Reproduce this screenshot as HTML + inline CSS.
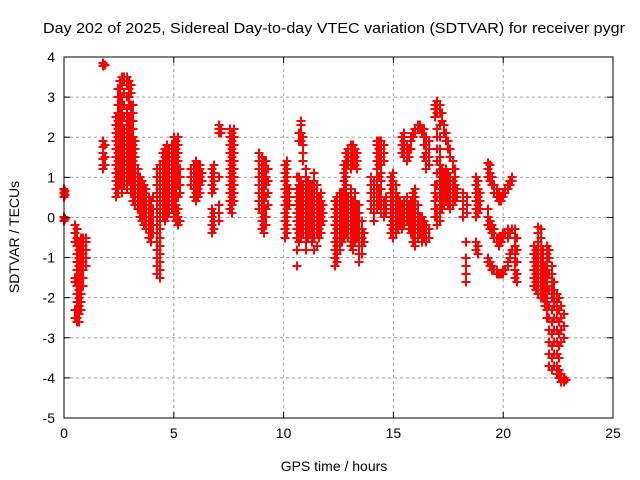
<!DOCTYPE html>
<html><head><meta charset="utf-8"><style>
body{margin:0;background:#fff}
svg{display:block;font-family:"Liberation Sans",sans-serif}
</style></head><body>
<svg id="chart" width="640" height="480" viewBox="0 0 640 480" xmlns="http://www.w3.org/2000/svg">
<rect width="640" height="480" fill="#fff"/>
<text x="43" y="33" font-size="15" textLength="582" lengthAdjust="spacingAndGlyphs" fill="#000">Day 202 of 2025, Sidereal Day-to-day VTEC variation (SDTVAR) for receiver pygr</text>
<g id="grid"></g>
<g id="marks" shape-rendering="crispEdges"></g>
<rect x="64" y="57" width="549" height="361" fill="none" stroke="#000" stroke-width="1"/>
<g id="ticks"></g>
<text x="334" y="471" font-size="14" text-anchor="middle">GPS time / hours</text>
<text transform="translate(19,237) rotate(-90)" font-size="14" text-anchor="middle">SDTVAR / TECUs</text>
</svg>
<script>
const xTicks = [0,5,10,15,20,25];
const yTicks = [-5,-4,-3,-2,-1,0,1,2,3,4];
// each entry: [GPS hour, [SDTVAR values at that hour]]
const stacks = [
[0.02,[0.7,0.6,0.5,0.0,-0.1]],[0.06,[0.65,0.55,-0.05]],
[0.5,[-0.2,-0.4,-0.6,-1.5,-1.6,-2.3,-2.5]],[0.58,[-0.3,-0.5,-0.7,-0.9,-1.1,-1.3,-1.5,-1.7,-1.9,-2.1,-2.3,-2.5,-2.6]],
[0.68,[-0.6,-0.8,-1.0,-1.2,-1.4,-1.6,-1.8,-2.0,-2.2,-2.4,-2.6]],[0.78,[-0.5,-0.7,-0.9,-1.1,-1.3,-1.5,-1.7,-1.9,-2.1,-2.3]],
[0.88,[-0.5,-0.7,-0.9,-1.1,-1.3,-1.5,-1.7]],[0.98,[-0.5,-0.6,-0.8,-1.0,-1.2]],
[1.78,[3.85,3.78,1.9,1.75,1.6,1.45,1.3,1.2]],[1.85,[3.8,1.8,1.5,1.3]],
[2.35,[0.5,0.7,0.9,1.1,1.3,1.5,1.7,1.9,2.1,2.3,2.5]],[2.45,[0.6,0.8,1.0,1.2,1.4,1.6,1.8,2.0,2.2,2.4,2.6,2.8,3.0,3.2]],
[2.55,[0.8,1.0,1.2,1.4,1.6,1.8,2.0,2.2,2.4,2.6,2.8,3.0,3.2,3.4]],[2.65,[0.6,0.8,1.0,1.2,1.4,1.6,1.8,2.0,2.2,2.4,2.6,2.8,3.0,3.3,3.5]],
[2.75,[0.8,1.0,1.2,1.4,1.6,1.8,2.0,2.2,2.5,2.8,3.1,3.4,3.5]],[2.85,[0.7,0.9,1.1,1.3,1.5,1.7,1.9,2.1,2.3,2.5,2.7,3.0,3.3,3.5]],
[2.95,[0.9,1.1,1.3,1.5,1.7,1.9,2.1,2.3,2.5,2.8,3.0,3.2,3.4]],[3.05,[0.6,0.8,1.0,1.2,1.4,1.6,1.8,2.0,2.2,2.4,2.6,2.8,3.1,3.3]],
[3.15,[0.4,0.6,0.8,1.0,1.2,1.4,1.6,1.8,2.0,2.2,2.4,2.6,2.8]],[3.25,[0.3,0.5,0.7,0.9,1.1,1.3,1.5,1.7,1.9]],
[3.35,[0.2,0.4,0.6,0.8,1.0,1.2]],[3.45,[0.0,0.2,0.4,0.6,0.8,1.0]],[3.55,[-0.1,0.1,0.3,0.5,0.7,0.9]],
[3.65,[-0.2,0.0,0.2,0.4,0.6,0.8]],[3.75,[-0.3,-0.1,0.1,0.3,0.5,0.7]],[3.85,[-0.5,-0.3,-0.1,0.1,0.3,0.5]],
[3.95,[-0.6,-0.4,-0.2,0.0,0.2,0.4]],[4.05,[-0.4,-0.2,0.0,0.2,0.5]],
[4.25,[-1.4,-1.2,-1.0,-0.8,-0.6,-0.4,-0.2,0.0,0.2,0.4,0.6,0.8,1.0,1.2]],[4.35,[-1.5,-1.3,-1.1,-0.9,-0.7,-0.5,-0.3,-0.1,0.1,0.3,0.5,0.7,0.9,1.1,1.3]],
[4.5,[0.0,0.2,0.4,0.6,0.8,1.0,1.2,1.4,1.6]],[4.6,[-0.1,0.1,0.3,0.5,0.7,0.9,1.1,1.3,1.5,1.7]],
[4.7,[0.0,0.2,0.4,0.6,0.8,1.0,1.2,1.4,1.6,1.8]],[4.8,[0.1,0.3,0.5,0.7,0.9,1.1,1.3,1.5,1.7]],
[4.9,[0.2,0.4,0.6,0.8,1.0,1.2,1.4,1.6,1.8]],[5.0,[0.0,0.2,0.4,0.6,0.8,1.0,1.2,1.4,1.6,1.8,2.0]],
[5.1,[-0.1,0.1,0.3,0.5,0.7,0.9,1.1,1.3,1.5,1.7,1.9]],[5.2,[-0.2,0.0,0.2,0.5,0.8,1.0,1.2,1.4,1.6,1.8,2.0]],
[5.3,[-0.1,0.6,0.8,1.0,1.2]],
[5.8,[0.8,1.0,1.2]],[5.9,[0.5,0.7,0.9,1.1,1.3]],[6.0,[0.4,0.6,0.8,1.0,1.2,1.4]],[6.1,[0.5,0.7,0.9,1.1,1.3]],
[6.2,[0.6,0.8,1.0,1.2,1.3]],[6.3,[0.9,1.1]],
[6.75,[-0.4,-0.2,0.0,0.2,0.6,0.8,1.0,1.2]],[6.85,[-0.3,-0.1,0.1,0.7,0.9,1.1,1.3]],
[7.05,[2.3,2.2,2.1,1.0,0.3,0.1,-0.1]],[7.15,[2.2,2.1]],
[7.55,[0.2,0.4,0.6,0.8,1.0,1.2,1.4,1.6,1.8,2.0,2.2]],[7.65,[0.1,0.3,0.5,0.7,0.9,1.1,1.3,1.5,1.7,1.9,2.1]],
[7.75,[0.4,0.6,0.8,1.0,1.2,1.4,1.6,1.8,2.0,2.2]],
[8.9,[0.2,0.4,0.6,0.8,1.0,1.2,1.4,1.6]],[9.0,[-0.3,-0.1,0.1,0.3,0.5,0.7,0.9,1.1,1.3,1.5]],
[9.1,[-0.4,-0.2,0.0,0.2,0.4,0.6,0.8,1.0,1.2,1.4]],[9.2,[-0.2,0.0,0.2,0.5,0.8,1.0,1.2,1.4]],[9.3,[0.3,0.6,0.9,1.2]],
[10.05,[-0.5,-0.3,-0.1,0.1,0.3,0.5,0.7,0.9,1.1,1.3]],[10.15,[-0.4,-0.2,0.0,0.2,0.4,0.6,0.8,1.0,1.2,1.4]],[10.25,[0.3,0.5,0.7]],
[10.6,[-1.2,-0.8,-0.5,-0.3,-0.1,0.1,0.3,0.5,0.7,1.0]],[10.7,[-0.6,-0.4,-0.2,0.0,0.2,0.4,0.6,0.8,1.0,1.9,2.1]],
[10.8,[-0.5,-0.3,-0.1,0.1,0.3,0.5,0.7,0.9,1.9,2.1,2.3,2.4]],[10.9,[-0.4,-0.2,0.0,0.2,0.4,0.6,0.8,1.4,1.6,1.8,2.0]],
[11.0,[-0.8,-0.6,-0.4,-0.2,0.0,0.2,0.4,0.6,0.8,1.0,1.2]],[11.1,[-0.5,-0.3,-0.1,0.1,0.3,0.5,0.7,0.9]],
[11.2,[-0.4,-0.2,0.0,0.2,0.4,0.6,0.8]],[11.3,[-0.6,-0.4,-0.2,0.0,0.2,0.4,0.6,0.8]],
[11.4,[-0.8,-0.5,-0.3,-0.1,0.1,0.3,0.5,0.7,0.9,1.1]],[11.5,[-0.7,-0.4,-0.2,0.0,0.2,0.4,0.6,0.8]],
[11.6,[-0.5,-0.3,-0.1,0.1,0.3,0.5]],[11.7,[-0.4,-0.2,0.0,0.2,0.4,0.6]],[11.8,[-0.1,0.1,0.3]],
[12.35,[-1.2,-1.0,-0.8,-0.6,-0.4,-0.2,0.0,0.2,0.4]],[12.45,[-1.1,-0.9,-0.7,-0.5,-0.3,-0.1,0.1,0.3,0.5]],
[12.55,[-0.8,-0.6,-0.4,-0.2,0.0,0.2,0.4,0.6]],[12.65,[-0.6,-0.4,-0.2,0.0,0.2,0.4,0.6]],
[12.75,[-0.5,-0.3,-0.1,0.1,0.3,0.5,0.7,0.9,1.1,1.3]],[12.85,[-0.4,-0.2,0.0,0.2,0.4,0.6,0.8,1.0,1.2,1.4,1.6]],
[12.95,[-0.5,-0.3,-0.1,0.1,0.3,0.5,1.3,1.5,1.7]],[13.05,[-0.7,-0.5,-0.3,-0.1,0.1,0.3,0.5,0.7,1.2,1.4,1.6,1.8]],
[13.15,[-0.8,-0.6,-0.4,-0.2,0.0,0.2,0.4,1.3,1.5,1.7,1.8]],[13.25,[-0.6,-0.4,-0.2,0.0,0.2,0.4,0.6,1.3,1.5,1.7]],
[13.35,[-0.5,-0.3,-0.1,0.1,0.3,1.2,1.4,1.6]],[13.45,[-1.1,-0.9,-0.7,-0.5,-0.3,-0.1,0.1,0.3]],
[13.55,[-0.9,-0.7,-0.5,-0.3,-0.1]],[13.65,[-0.6,-0.4]],
[14.0,[0.2,0.4,0.6,0.8,1.0]],[14.1,[-0.1,0.1,0.3,0.5,0.7,0.9]],[14.25,[0.2,0.4,0.6,0.8,1.0,1.2,1.4,1.6,1.8,1.9]],
[14.35,[0.3,0.5,0.7,1.0,1.3,1.5,1.7,1.9]],[14.45,[0.1,0.3,0.5,0.7,0.9,1.1,1.3,1.5,1.7,1.9]],
[14.55,[0.0,0.2,0.4,1.4,1.6,1.8]],[14.65,[0.1,0.3,0.5]],
[14.9,[-0.4,-0.2,0.0,0.2,0.4,0.6,0.8,1.0]],[15.0,[-0.5,-0.3,-0.1,0.1,0.3,0.5,0.7,0.9,1.1]],
[15.1,[-0.4,-0.2,0.0,0.2,0.4,0.6,0.8]],[15.2,[-0.3,-0.1,0.1,0.3,0.5]],[15.3,[-0.2,0.0,0.2,0.4]],
[15.4,[-0.3,-0.1,0.1,0.3,1.6,1.8,2.0]],[15.5,[-0.2,0.0,0.2,0.4,1.5,1.7,1.9,2.1]],
[15.6,[-0.1,0.1,0.3,0.5,1.4,1.6,1.8]],[15.7,[-0.3,-0.1,0.1,0.3,1.5,1.7]],
[15.8,[-0.4,-0.2,0.0,0.2,0.4,1.7,1.9,2.0]],[15.9,[-0.6,-0.4,-0.2,0.0,0.2,0.4,0.6,2.0,2.1]],
[16.0,[-0.7,-0.5,-0.3,-0.1,0.1,0.3,0.5,0.7,2.1,2.2]],[16.1,[-0.5,-0.3,-0.1,0.1,0.3,2.2,2.3]],
[16.2,[-0.4,-0.2,0.0,2.2,2.3]],[16.3,[-0.6,-0.4,-0.2,0.0,2.1,2.2]],[16.4,[-0.5,-0.3,-0.1,1.5,1.8,2.0,2.2]],
[16.5,[-0.6,-0.4,-0.2,1.2,1.4,1.6,1.8,2.0]],[16.6,[-0.5,-0.3,1.3,1.5,1.7,1.9]],
[16.9,[0.0,0.2,0.4,0.6,0.8,2.5,2.7,2.8]],[17.0,[-0.2,0.0,0.2,0.5,0.8,1.1,1.4,1.7,2.0,2.2,2.6,2.8,2.9]],
[17.1,[-0.1,0.1,0.3,0.5,0.7,0.9,1.1,1.3,1.5,1.7,2.0,2.3,2.6,2.8]],[17.2,[0.2,0.4,0.6,0.8,1.0,1.2,2.4,2.6]],
[17.3,[0.3,0.5,0.7,0.9,1.1,2.1,2.3]],[17.4,[0.4,0.6,0.8,1.0,1.2,1.9,2.1]],[17.5,[0.3,0.5,0.7,0.9,1.1,1.7,1.9]],
[17.6,[0.2,0.4,0.6,0.8,1.0,1.5,1.7]],[17.7,[0.3,0.5,0.7,0.9,1.2,1.4]],[17.8,[0.4,0.6,0.8,1.0,1.2]],[17.9,[0.5,0.7]],
[18.15,[0.0,0.2,0.4,0.6]],[18.3,[-0.6,-1.0,-1.2,-1.4,-1.6]],[18.35,[0.1,0.3,0.5]],
[18.75,[0.0,0.2,0.4,0.6,0.8,1.0,-0.6,-0.8]],[18.85,[0.1,0.3,0.5,0.7,0.9,-0.7,-0.9]],[18.95,[0.2,0.4,0.6]],
[19.3,[1.0,1.2,1.35,0.2,0.0,-0.2,-1.0,-1.1]],[19.4,[0.9,1.1,1.3,-0.1,-0.3,-1.1,-1.2]],[19.5,[0.8,1.0,-0.2,-0.4,-1.2,-1.3]],
[19.6,[0.6,0.8,-0.3,-0.5,-1.3]],[19.7,[0.5,0.7,-0.5,-0.6,-1.3,-1.4]],[19.8,[0.4,0.6,-0.5,-0.7,-1.4]],
[19.9,[0.4,0.5,-0.6,-0.5,-1.4]],[20.0,[0.5,0.6,-0.5,-0.4,-1.3,-1.4]],[20.1,[0.6,0.7,-0.4,-1.3]],
[20.2,[0.7,0.8,-0.3,-0.5,-1.1,-1.2]],[20.3,[0.8,0.9,-0.4,-0.9,-1.0]],[20.4,[0.9,1.0,-0.3,-0.8]],
[20.55,[-0.3,-0.5,-0.7,-0.9,-1.1,-1.3,-1.5]],[20.65,[-0.5,-0.8,-1.1,-1.4,-1.6]],
[21.4,[-0.7,-0.9,-1.1,-1.3,-1.5,-1.7]],[21.5,[-0.8,-1.0,-1.2,-1.4,-1.6,-1.8]],
[21.6,[-0.25,-0.4,-0.6,-0.8,-1.0,-1.2,-1.4,-1.6,-1.8,-1.9]],[21.7,[-0.3,-0.5,-0.7,-0.9,-1.1,-1.3,-1.5,-1.7,-1.9,-2.0]],
[21.8,[-0.8,-1.0,-1.2,-1.4,-1.6,-1.8,-2.0]],[21.9,[-1.2,-1.4,-1.6,-1.8,-2.0,-2.2]],
[22.0,[-0.7,-0.9,-1.1,-1.3,-1.5,-1.7,-1.9,-2.1,-2.3,-2.5]],[22.1,[-0.8,-1.0,-1.4,-1.8,-2.2,-2.5,-2.8,-3.1,-3.4,-3.7]],
[22.2,[-1.2,-1.4,-1.6,-1.8,-2.0,-2.3,-2.6,-2.9,-3.2,-3.5,-3.8]],[22.3,[-1.6,-1.8,-2.0,-2.2,-2.5,-2.8,-3.1,-3.4,-3.7]],
[22.45,[-1.9,-2.1,-2.3,-2.5,-2.8,-3.1,-3.4,-3.7,-3.9]],[22.55,[-2.0,-2.3,-2.6,-2.9,-3.2,-3.5,-3.8,-4.0]],
[22.65,[-2.2,-2.5,-2.8,-3.1,-3.9,-4.0,-4.1]],[22.75,[-2.4,-2.7,-3.0,-4.0,-4.1]],[22.85,[-4.05]]
];
const NS='http://www.w3.org/2000/svg';
const L=64,R=613,T=57,B=418;
function xs(v){return L+(v-0)/25*(R-L);}
function ys(v){return B-(v+5)/9*(B-T);}
const grid=document.getElementById('grid'),ticks=document.getElementById('ticks'),marks=document.getElementById('marks');
function mk(tag,attrs,parent){const e=document.createElementNS(NS,tag);for(const k in attrs)e.setAttribute(k,attrs[k]);parent.appendChild(e);return e;}
xTicks.forEach(t=>{
  const x=xs(t);
  if(t>0&&t<25){const g=mk('line',{x1:x,x2:x,y1:T,y2:B,stroke:'#a0a0a0','stroke-dasharray':'3,3'},grid);
  
  }
  mk('line',{x1:x,x2:x,y1:B,y2:B-6,stroke:'#000'},ticks);
  mk('line',{x1:x,x2:x,y1:T,y2:T+6,stroke:'#000'},ticks);
  const lb=mk('text',{x:x,y:B+20,'font-size':14,'text-anchor':'middle'},ticks);
  
  
  lb.textContent=t;
});
yTicks.forEach(v=>{
  const y=ys(v);
  if(v>-5&&v<4){const g=mk('line',{x1:L,x2:R,y1:y,y2:y,stroke:'#a0a0a0','stroke-dasharray':'3,3'},grid);
  
  }
  mk('line',{x1:L,x2:L+6,y1:y,y2:y,stroke:'#000'},ticks);
  mk('line',{x1:R,x2:R-6,y1:y,y2:y,stroke:'#000'},ticks);
  const lb=mk('text',{x:L-9,y:y+5,'font-size':14,'text-anchor':'end'},ticks);
  
  
  lb.textContent=v;
});
stacks.forEach(([t,vals])=>{
  vals.forEach(v=>{
    const x=Math.round(xs(t)),y=Math.round(ys(v));
    const p=mk('path',{d:`M${x-4.5},${y}H${x+4.5}M${x},${y-4.5}V${y+4.5}`,stroke:'#ff0000','stroke-width':2,fill:'none'},marks);
    
    
  });
});
</script>
</body></html>
